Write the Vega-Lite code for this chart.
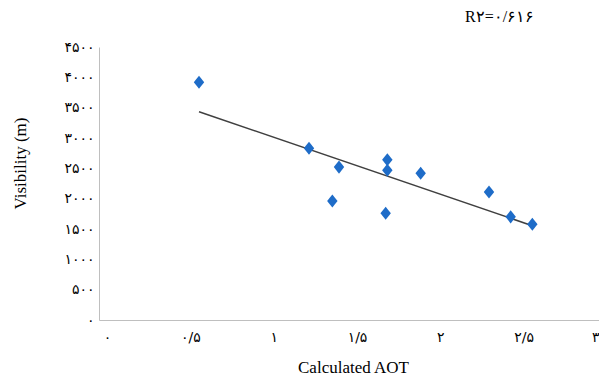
{
  "$schema": "https://vega.github.io/schema/vega-lite/v6.json",
  "autosize": "none",
  "width": 500,
  "height": 273,
  "padding": {"left": 99, "top": 47, "right": 0, "bottom": 58},
  "background": "white",
  "config": {
    "view": {"stroke": null},
    "font": "Liberation Serif"
  },
  "title": {
    "text": "R۲=۰/۶۱۶",
    "anchor": "start",
    "frame": "group",
    "dx": 366,
    "offset": 2,
    "baseline": "alphabetic",
    "font": "Liberation Serif",
    "fontSize": 16,
    "fontWeight": "normal",
    "color": "#000000"
  },
  "data": {
    "values": [
      {"aot": 0.60, "vis": 3920},
      {"aot": 1.26, "vis": 2830},
      {"aot": 1.44, "vis": 2520},
      {"aot": 1.40, "vis": 1960},
      {"aot": 1.73, "vis": 2640},
      {"aot": 1.73, "vis": 2470},
      {"aot": 1.72, "vis": 1760},
      {"aot": 1.93, "vis": 2420},
      {"aot": 2.34, "vis": 2110},
      {"aot": 2.47, "vis": 1700},
      {"aot": 2.60, "vis": 1580}
    ]
  },
  "encoding": {
    "x": {
      "field": "aot", "type": "quantitative",
      "scale": {"domain": [0, 3], "nice": false, "zero": true},
      "axis": {
        "values": [0, 0.5, 1, 1.5, 2, 2.5, 3],
        "labelExpr": "datum.value == 0 ? '۰' : datum.value == 0.5 ? '۰/۵' : datum.value == 1 ? '۱' : datum.value == 1.5 ? '۱/۵' : datum.value == 2 ? '۲' : datum.value == 2.5 ? '۲/۵' : '۳'",
        "ticks": false, "grid": false,
        "domainColor": "#bfbfbf", "domainWidth": 1,
        "labelFont": "DejaVu Sans", "labelFontSize": 14, "labelColor": "#000000",
        "labelPadding": 10,
        "labelAlign": {"condition": {"test": "datum.value == 3", "value": "right"}, "value": "center"},
        "labelOffset": {"condition": {"test": "datum.value == 3", "value": 0}, "value": 8},
        "labelFlush": false, "labelOverlap": false,
        "title": "Calculated AOT",
        "titleFont": "Liberation Serif", "titleFontSize": 17, "titleFontWeight": "normal", "titleColor": "#000000",
        "titleX": 254, "titleY": 52, "titleAlign": "center", "titleBaseline": "alphabetic"
      }
    },
    "y": {
      "field": "vis", "type": "quantitative",
      "scale": {"domain": [0, 4500], "nice": false},
      "axis": {
        "values": [0, 500, 1000, 1500, 2000, 2500, 3000, 3500, 4000, 4500],
        "labelExpr": "datum.value == 0 ? '۰' : datum.value == 500 ? '۵۰۰' : datum.value == 1000 ? '۱۰۰۰' : datum.value == 1500 ? '۱۵۰۰' : datum.value == 2000 ? '۲۰۰۰' : datum.value == 2500 ? '۲۵۰۰' : datum.value == 3000 ? '۳۰۰۰' : datum.value == 3500 ? '۳۵۰۰' : datum.value == 4000 ? '۴۰۰۰' : '۴۵۰۰'",
        "ticks": false, "grid": false,
        "domainColor": "#bfbfbf", "domainWidth": 1,
        "labelFont": "DejaVu Sans", "labelFontSize": 14, "labelColor": "#000000",
        "labelPadding": 5, "labelDy": -3, "labelFlush": false, "labelOverlap": false,
        "title": "Visibility (m)",
        "titleFont": "Liberation Serif", "titleFontSize": 17, "titleFontWeight": "normal", "titleColor": "#000000",
        "titleX": -74, "titleY": 116, "titleAngle": -90, "titleAlign": "center", "titleBaseline": "alphabetic"
      }
    }
  },
  "layer": [
    {
      "transform": [{"regression": "vis", "on": "aot"}],
      "mark": {"type": "line", "color": "#404040", "strokeWidth": 1.5}
    },
    {
      "mark": {"type": "point", "shape": "M0,-1L0.8,0L0,1L-0.8,0Z", "filled": true, "opacity": 1, "size": 170, "color": "#1E6CC8"}
    }
  ]
}
